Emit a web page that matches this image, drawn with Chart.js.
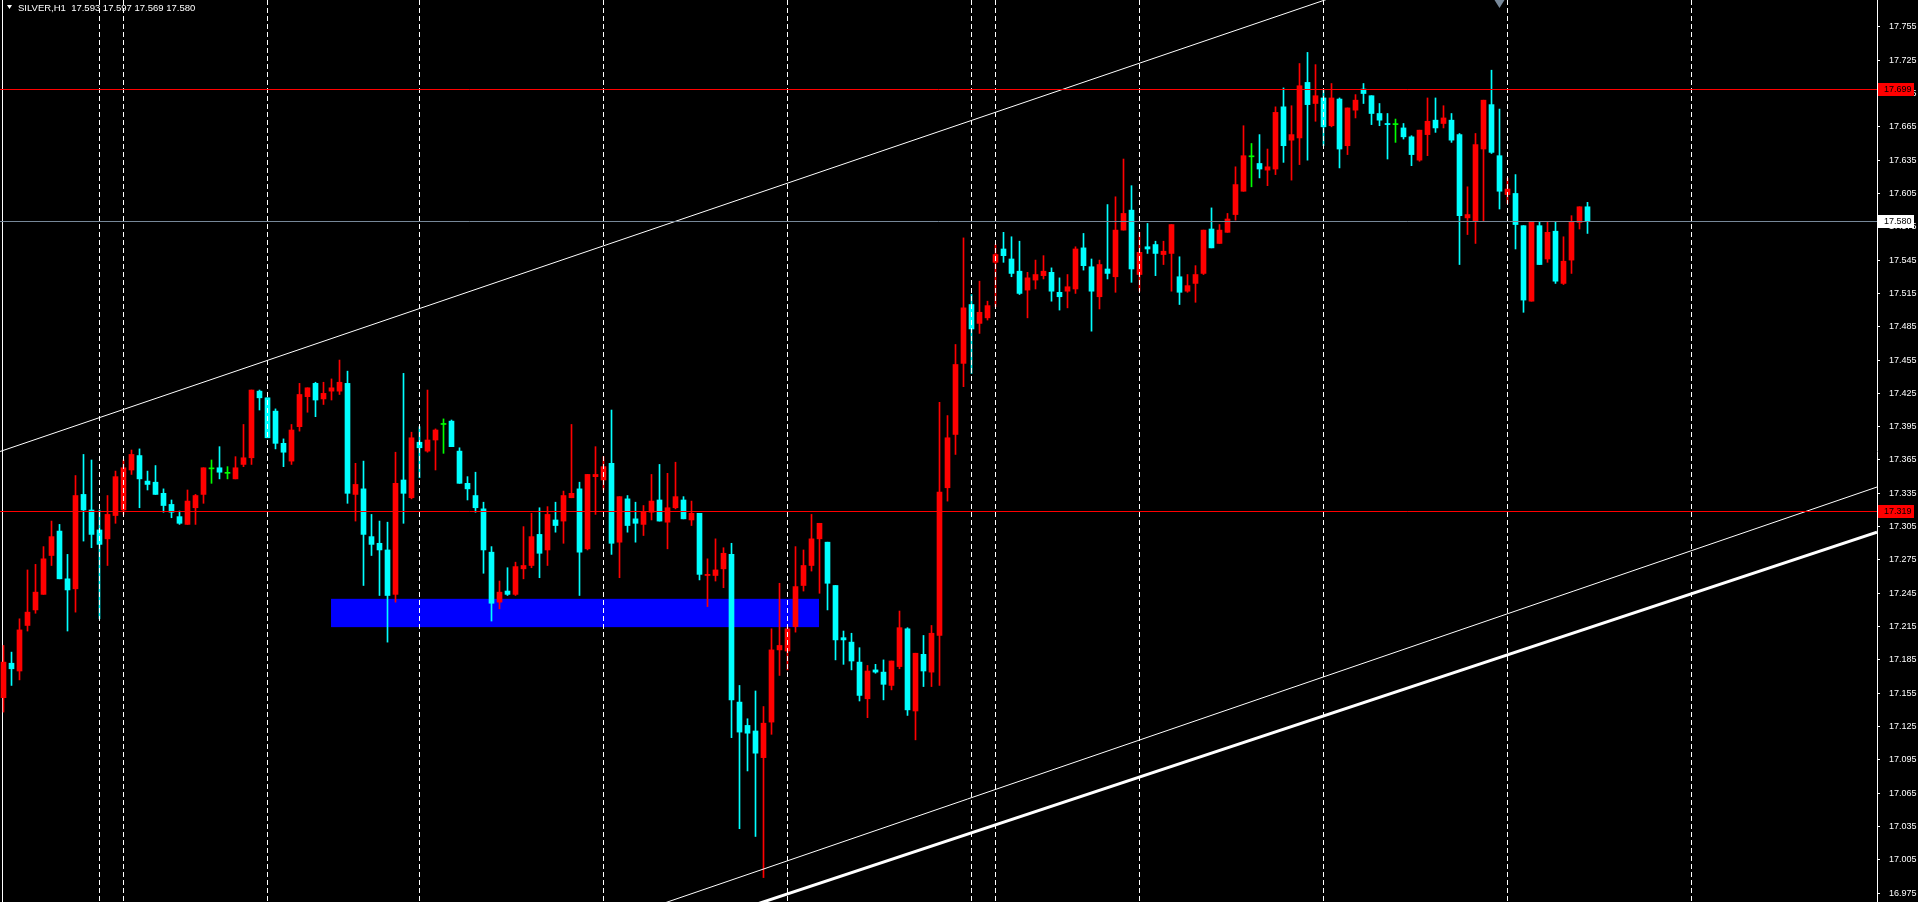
<!DOCTYPE html>
<html>
<head>
<meta charset="utf-8">
<title>SILVER,H1</title>
<script src="https://cdn.jsdelivr.net/npm/chart.js@4.4.0/dist/chart.umd.min.js"></script>
<style>
  html, body { margin: 0; padding: 0; background: #000; overflow: hidden; }
  #wrap { width: 1918px; height: 902px; position: relative; }
</style>
</head>
<body>
<div id="wrap"><canvas id="myChart"></canvas></div>
<script>
// H1 candles, oldest first
var OPEN = [17.151,17.182,17.175,17.216,17.230,17.244,17.279,17.301,17.258,17.249,17.334,17.320,17.302,17.294,17.315,17.320,17.356,17.369,17.346,17.345,
  17.335,17.325,17.314,17.307,17.322,17.334,17.357,17.358,17.353,17.348,17.361,17.367,17.427,17.421,17.409,17.380,17.364,17.395,17.422,17.434,
  17.420,17.427,17.427,17.434,17.334,17.339,17.296,17.290,17.284,17.244,17.347,17.331,17.381,17.373,17.383,17.397,17.400,17.373,17.344,17.333,
  17.321,17.282,17.237,17.247,17.244,17.267,17.270,17.298,17.284,17.311,17.310,17.331,17.339,17.285,17.350,17.347,17.362,17.291,17.330,17.312,
  17.307,17.318,17.329,17.309,17.322,17.329,17.311,17.317,17.261,17.261,17.267,17.280,17.147,17.126,17.121,17.097,17.129,17.194,17.193,17.215,
  17.252,17.270,17.294,17.291,17.252,17.205,17.201,17.183,17.150,17.176,17.174,17.162,17.179,17.213,17.139,17.190,17.174,17.207,17.340,17.388,
  17.452,17.505,17.488,17.493,17.543,17.555,17.546,17.535,17.518,17.527,17.531,17.534,17.516,17.517,17.519,17.556,17.539,17.512,17.537,17.530,
  17.572,17.590,17.532,17.557,17.559,17.550,17.551,17.530,17.517,17.524,17.533,17.573,17.560,17.570,17.586,17.607,17.638,17.632,17.626,17.627,
  17.683,17.653,17.655,17.705,17.686,17.691,17.666,17.690,17.648,17.680,17.699,17.693,17.677,17.668,17.667,17.664,17.656,17.635,17.658,17.671,
  17.668,17.671,17.658,17.583,17.580,17.645,17.685,17.639,17.604,17.605,17.576,17.508,17.576,17.546,17.571,17.524,17.545,17.579,17.593];
var HIGH = [17.198,17.192,17.222,17.266,17.271,17.287,17.310,17.307,17.280,17.351,17.370,17.365,17.320,17.333,17.355,17.365,17.374,17.375,17.355,17.360,
  17.339,17.329,17.319,17.338,17.334,17.358,17.365,17.377,17.359,17.368,17.397,17.428,17.428,17.421,17.411,17.384,17.397,17.434,17.430,17.435,
  17.435,17.438,17.455,17.445,17.362,17.364,17.316,17.310,17.309,17.372,17.443,17.390,17.395,17.428,17.393,17.402,17.401,17.376,17.350,17.354,
  17.327,17.287,17.256,17.268,17.273,17.305,17.317,17.322,17.323,17.327,17.337,17.397,17.345,17.352,17.377,17.368,17.410,17.332,17.333,17.327,
  17.324,17.352,17.361,17.353,17.363,17.332,17.328,17.317,17.276,17.294,17.286,17.290,17.162,17.132,17.157,17.143,17.213,17.254,17.215,17.287,
  17.284,17.316,17.308,17.291,17.252,17.211,17.209,17.196,17.180,17.181,17.185,17.184,17.229,17.214,17.191,17.207,17.216,17.417,17.405,17.469,
  17.565,17.514,17.526,17.508,17.559,17.570,17.566,17.562,17.534,17.545,17.549,17.538,17.529,17.532,17.557,17.569,17.546,17.545,17.595,17.602,
  17.636,17.612,17.570,17.578,17.562,17.562,17.577,17.548,17.532,17.540,17.572,17.592,17.577,17.587,17.629,17.666,17.650,17.658,17.645,17.683,
  17.700,17.684,17.722,17.732,17.721,17.698,17.704,17.691,17.682,17.694,17.704,17.693,17.686,17.677,17.672,17.668,17.657,17.662,17.691,17.691,
  17.684,17.677,17.659,17.611,17.659,17.689,17.716,17.681,17.619,17.622,17.576,17.579,17.579,17.579,17.579,17.566,17.585,17.593,17.597];
var LOW = [17.138,17.162,17.167,17.211,17.227,17.244,17.270,17.258,17.211,17.228,17.292,17.286,17.222,17.270,17.308,17.316,17.352,17.322,17.338,17.334,
  17.318,17.313,17.307,17.307,17.307,17.326,17.344,17.348,17.348,17.348,17.359,17.361,17.410,17.385,17.375,17.359,17.361,17.391,17.408,17.404,
  17.415,17.419,17.424,17.326,17.310,17.252,17.279,17.243,17.201,17.237,17.308,17.330,17.349,17.372,17.356,17.371,17.377,17.344,17.329,17.318,
  17.263,17.220,17.231,17.243,17.243,17.258,17.268,17.259,17.270,17.300,17.290,17.331,17.243,17.284,17.316,17.338,17.280,17.259,17.300,17.291,
  17.297,17.311,17.310,17.285,17.321,17.312,17.306,17.257,17.233,17.256,17.250,17.115,17.033,17.085,17.026,16.989,17.118,17.171,17.176,17.210,
  17.247,17.265,17.245,17.230,17.185,17.181,17.176,17.148,17.133,17.173,17.149,17.158,17.177,17.135,17.113,17.161,17.161,17.162,17.328,17.370,
  17.431,17.443,17.479,17.491,17.503,17.543,17.530,17.514,17.493,17.519,17.528,17.508,17.500,17.502,17.515,17.536,17.481,17.501,17.528,17.516,
  17.572,17.525,17.517,17.551,17.531,17.541,17.517,17.505,17.516,17.507,17.532,17.556,17.560,17.570,17.581,17.607,17.611,17.619,17.612,17.622,
  17.633,17.617,17.631,17.635,17.670,17.648,17.665,17.628,17.640,17.673,17.686,17.667,17.666,17.636,17.651,17.654,17.630,17.634,17.639,17.660,
  17.664,17.651,17.541,17.568,17.560,17.580,17.641,17.591,17.596,17.555,17.498,17.508,17.541,17.543,17.524,17.523,17.533,17.573,17.569];
var CLOSE = [17.183,17.177,17.212,17.228,17.246,17.276,17.296,17.258,17.248,17.333,17.320,17.298,17.289,17.316,17.350,17.358,17.370,17.348,17.343,17.334,
  17.324,17.318,17.308,17.328,17.333,17.358,17.357,17.354,17.353,17.358,17.367,17.428,17.421,17.385,17.380,17.372,17.392,17.424,17.430,17.419,
  17.425,17.430,17.435,17.335,17.343,17.298,17.289,17.284,17.243,17.344,17.335,17.385,17.376,17.383,17.392,17.397,17.377,17.344,17.339,17.322,
  17.284,17.236,17.246,17.244,17.269,17.270,17.296,17.281,17.316,17.306,17.333,17.335,17.282,17.352,17.352,17.359,17.290,17.332,17.306,17.308,
  17.318,17.328,17.310,17.322,17.332,17.312,17.317,17.262,17.262,17.266,17.281,17.149,17.120,17.119,17.101,17.128,17.194,17.198,17.213,17.251,
  17.270,17.294,17.308,17.254,17.203,17.203,17.184,17.153,17.175,17.174,17.163,17.184,17.214,17.140,17.191,17.175,17.209,17.336,17.385,17.451,
  17.502,17.483,17.498,17.504,17.550,17.549,17.533,17.515,17.529,17.532,17.535,17.517,17.512,17.521,17.555,17.540,17.517,17.541,17.533,17.572,
  17.587,17.537,17.552,17.555,17.551,17.553,17.577,17.516,17.522,17.532,17.572,17.556,17.572,17.582,17.613,17.639,17.638,17.627,17.629,17.678,
  17.648,17.658,17.702,17.685,17.693,17.665,17.691,17.645,17.682,17.689,17.695,17.677,17.671,17.667,17.667,17.656,17.640,17.662,17.670,17.664,
  17.673,17.653,17.585,17.586,17.649,17.689,17.642,17.607,17.609,17.577,17.509,17.579,17.541,17.570,17.526,17.544,17.579,17.593,17.580];

// price axis labels
var TICKS = [16.975,17.005,17.035,17.065,17.095,17.125,17.155,17.185,17.215,17.245,17.275,17.305,17.335,17.365,
  17.395,17.425,17.455,17.485,17.515,17.545,17.575,17.605,17.635,17.665,17.695,17.725,17.755];

// chart objects (bar index / price)
var HLINES = [17.699, 17.319];
var BID = 17.580;
var VLINES = [12, 15, 33, 52, 75, 98, 121, 124, 142, 165, 188, 211];
var ZONE_BARS = [40.94, 101.94];
var ZONE_PRICES = [17.2145, 17.240];
var TRENDS = [
  [0, 17.3737, 160, 17.7665, 1],
  [84, 16.9695, 234, 17.3402, 1],
  [96, 16.9695, 234, 17.2996, 3]
];
var SHIFT_BAR = 187;
var TITLE = 'SILVER,H1  17.593 17.597 17.569 17.580';

var UP = '#ff0000', DOWN = '#00ffff', DOJI = '#00ff00';

function candleColor(i) {
    if (CLOSE[i] > OPEN[i]) return UP;
    if (CLOSE[i] < OPEN[i]) return DOWN;
    return DOJI;
}

var bodies = OPEN.map(function (o, i) { return { x: i, y: [o, CLOSE[i]] }; });
var wicks = LOW.map(function (l, i) { return { x: i, y: [l, HIGH[i]] }; });
var colors = OPEN.map(function (o, i) { return candleColor(i); });

// MT4 style drawings
var mtObjects = {
    id: 'mtObjects',
    beforeDatasetsDraw: function (chart) {
        var ctx = chart.ctx, a = chart.chartArea;
        var xs = chart.scales.x, ys = chart.scales.y;
        ctx.save();
        ctx.fillStyle = '#ffffff';
        ctx.fillRect(2, a.top, 1, a.bottom - a.top);
        // rectangle
        var x0 = xs.getPixelForValue(ZONE_BARS[0]), x1 = xs.getPixelForValue(ZONE_BARS[1]);
        var y0 = ys.getPixelForValue(ZONE_PRICES[1]), y1 = ys.getPixelForValue(ZONE_PRICES[0]);
        ctx.fillStyle = '#0000ff';
        ctx.fillRect(x0, y0, x1 - x0, y1 - y0);
        ctx.restore();
    },
    afterDatasetsDraw: function (chart) {
        var ctx = chart.ctx, a = chart.chartArea;
        var xs = chart.scales.x, ys = chart.scales.y;
        ctx.save();
        ctx.beginPath();
        ctx.rect(a.left, a.top, a.right - a.left, a.bottom - a.top);
        ctx.clip();

        // vertical lines
        ctx.strokeStyle = '#ffffff';
        ctx.lineWidth = 1;
        ctx.setLineDash([5, 3]);
        VLINES.forEach(function (b) {
            var x = Math.round(xs.getPixelForValue(b) - 0.5) + 0.5;
            ctx.beginPath();
            ctx.moveTo(x, a.top);
            ctx.lineTo(x, a.bottom);
            ctx.stroke();
        });
        ctx.setLineDash([]);

        // trend lines (rays both ways)
        TRENDS.forEach(function (t) {
            var xa = xs.getPixelForValue(t[0]), ya = ys.getPixelForValue(t[1]);
            var xb = xs.getPixelForValue(t[2]), yb = ys.getPixelForValue(t[3]);
            var k = (yb - ya) / (xb - xa);
            ctx.strokeStyle = '#ffffff';
            ctx.lineWidth = t[4];
            ctx.beginPath();
            ctx.moveTo(a.left, ya + k * (a.left - xa));
            ctx.lineTo(a.right, ya + k * (a.right - xa));
            ctx.stroke();
        });

        // horizontal lines
        ctx.lineWidth = 1;
        HLINES.forEach(function (p) {
            var y = Math.round(ys.getPixelForValue(p) - 0.5) + 0.5;
            ctx.strokeStyle = '#ff0000';
            ctx.beginPath();
            ctx.moveTo(a.left, y);
            ctx.lineTo(a.right, y);
            ctx.stroke();
        });
        var yb = Math.round(ys.getPixelForValue(BID) - 0.5) + 0.5;
        ctx.strokeStyle = '#778899';
        ctx.beginPath();
        ctx.moveTo(a.left, yb);
        ctx.lineTo(a.right, yb);
        ctx.stroke();

        // chart shift marker
        var sx = xs.getPixelForValue(SHIFT_BAR);
        ctx.fillStyle = '#778899';
        ctx.beginPath();
        ctx.moveTo(sx - 5, 0);
        ctx.lineTo(sx + 5, 0);
        ctx.lineTo(sx, 8);
        ctx.closePath();
        ctx.fill();

        // title
        ctx.fillStyle = '#ffffff';
        ctx.beginPath();
        ctx.moveTo(7, 5);
        ctx.lineTo(12, 5);
        ctx.lineTo(9.5, 9);
        ctx.closePath();
        ctx.fill();
        ctx.font = '9.5px "Liberation Sans", Arial, sans-serif';
        ctx.textBaseline = 'alphabetic';
        ctx.fillText(TITLE, 18, 11);
        ctx.restore();
    },
    afterDraw: function (chart) {
        var ctx = chart.ctx, a = chart.chartArea, ys = chart.scales.y;
        var boxes = [
            { v: HLINES[0], bg: '#ff0000', fg: '#000000' },
            { v: HLINES[1], bg: '#ff0000', fg: '#000000' },
            { v: BID, bg: '#ffffff', fg: '#000000' }
        ];
        ctx.save();
        ctx.font = '9px "Liberation Sans", Arial, sans-serif';
        ctx.textBaseline = 'middle';
        boxes.forEach(function (b) {
            var y = ys.getPixelForValue(b.v);
            ctx.fillStyle = b.bg;
            ctx.fillRect(a.right + 1, Math.round(y) - 6, 36, 13);
            ctx.fillStyle = b.fg;
            ctx.fillText(b.v.toFixed(3), a.right + 7, Math.round(y) + 0.5);
        });
        ctx.restore();
    }
};

var ctx = document.getElementById('myChart').getContext('2d');
window.myChart = new Chart(ctx, {
    type: 'bar',
    data: {
        datasets: [
            {
                label: 'body',
                data: bodies,
                backgroundColor: colors,
                barThickness: 5,
                minBarLength: 1,
                grouped: false,
                borderWidth: 0
            },
            {
                label: 'wick',
                data: wicks,
                backgroundColor: colors,
                barThickness: 1,
                minBarLength: 1,
                grouped: false,
                borderWidth: 0
            }
        ]
    },
    options: {
        responsive: true,
        maintainAspectRatio: false,
        animation: false,
        devicePixelRatio: 1,
        layout: { padding: 0, autoPadding: false },
        plugins: {
            legend: { display: false },
            tooltip: { enabled: false }
        },
        events: [],
        scales: {
            x: {
                type: 'linear',
                display: false,
                offset: false,
                bounds: 'data',
                grace: 0,
                min: -0.4375,
                max: 234.1875,
                grid: { offset: false }
            },
            y: {
                position: 'right',
                min: 16.967,
                max: 17.7792,
                afterBuildTicks: function (scale) {
                    scale.ticks = TICKS.map(function (v) { return { value: v }; });
                },
                afterFit: function (scale) {
                    scale.width = 41;
                    scale.paddingTop = 0;
                    scale.paddingBottom = 0;
                },
                border: { display: true, color: '#ffffff', width: 1 },
                grid: { drawOnChartArea: false, drawTicks: true, tickLength: 3, color: '#ffffff' },
                ticks: {
                    color: '#ffffff',
                    autoSkip: false,
                    padding: 9,
                    font: { family: '"Liberation Sans", Arial, sans-serif', size: 9 },
                    callback: function (v) { return Number(v).toFixed(3); }
                }
            }
        }
    },
    plugins: [mtObjects]
});
</script>
</body>
</html>
